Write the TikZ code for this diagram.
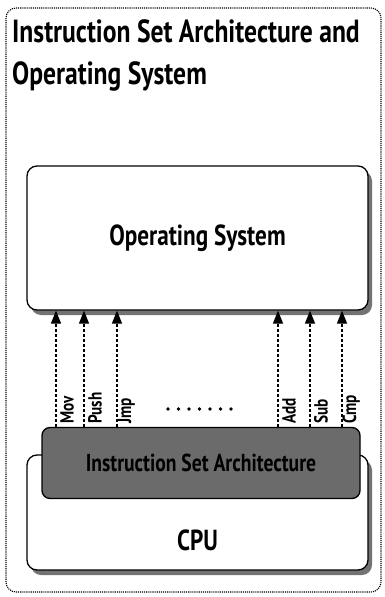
\documentclass[tikz,border=0pt]{standalone}
\usepackage{fontspec}
\setmainfont{PT Sans}[BoldFont={PT Sans Bold}, FakeStretch=0.8]
\usetikzlibrary{arrows.meta,shadows}
\begin{document}
\begin{tikzpicture}[x=1pt,y=-1pt,
  outerbox/.style={draw, densely dotted, line width=1.1pt, rounded corners=10pt},
  layerbox/.style={draw, line width=1.3pt, rounded corners=10pt, fill=white,
    drop shadow={shadow xshift=4pt, shadow yshift=-5pt, fill=black!55, opacity=1}},
  isabox/.style={draw, line width=1.3pt, rounded corners=8pt, fill=black!58},
  callarrow/.style={densely dashed, line width=1.3pt, -{Triangle[width=10pt,length=13pt]}},
  oplabel/.style={rotate=90, anchor=south west, inner sep=1pt, font=\fontsize{19}{19}\selectfont\bfseries},
  ellipsisdot/.style={fill=black}
]
\useasboundingbox (0,0) rectangle (384,597);
\draw[outerbox] (6,8) rectangle (381,592);
\node[anchor=north west, align=left, inner sep=0pt, font=\fontsize{32}{42}\selectfont\bfseries]
  (title) at (12,19) {Instruction Set Architecture and\\Operating System};

\node[layerbox, minimum width=341pt, minimum height=144pt, inner sep=0pt,
  font=\fontsize{29}{29}\selectfont\bfseries] (os) at (197.5,238) {Operating System};

\node[layerbox, minimum width=341pt, minimum height=115pt] (cpu) at (197.5,512.5) {};
\node[font=\fontsize{29}{29}\selectfont\bfseries] (cpulabel) at (197.5,540) {CPU};
\node[isabox, minimum width=318pt, minimum height=71pt,
  font=\fontsize{24.5}{24.5}\selectfont\bfseries] (isa) at (201,463) {Instruction Set Architecture};

\foreach \x/\name/\txt in {56/mov/Mov, 84/push/Push, 117/jmp/Jmp, 278/add/Add, 310/sub/Sub, 342/cmp/Cmp}{
  \coordinate (\name base) at (\x,425);
  \draw[callarrow] (isa.north -| \name base) -- (os.south -| \name base);
  \node[oplabel] (\name) at ([xshift=19pt]\name base) {\txt};
}
% ellipsis between the two groups of instructions
\foreach \i in {0,...,6}{
  \fill[ellipsisdot] (168+\i*10.5,409) circle (1.9pt);
}
\end{tikzpicture}
\end{document}
